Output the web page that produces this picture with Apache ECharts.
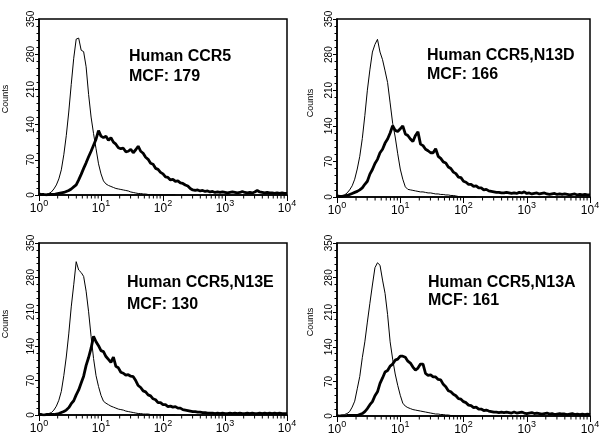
<!DOCTYPE html>
<html><head><meta charset="utf-8">
<script src="https://cdn.jsdelivr.net/npm/echarts@6/dist/echarts.min.js"></script>
<style>html,body{margin:0;padding:0;background:#fff}#c{width:608px;height:447px}</style>
</head><body><div id="c"></div>
<script>
// fluorescence channel bins, log10 units (10^0 .. 10^4)
const logBins = Array.from({length: 101}, (_, i) => +(i * 0.04).toFixed(2));
const xTickLabels = ['0', '1', '2', '3', '4'];
const yTicks = [0, 70, 140, 210, 280, 350];

const panelTitles = ['Human CCR5', 'Human CCR5,N13D', 'Human CCR5,N13E', 'Human CCR5,N13A'];
const panelMCF = ['MCF: 179', 'MCF: 166', 'MCF: 130', 'MCF: 161'];

// thin line: control
const control1 = [0,0,1,2,3,6,12,20,32,50, 80,118,165,220,272,310,312,288,285,255,
  200,155,122,92,62,42,28,22,19,17, 15,13,12,11,10,9,8,6,5,4, 3,3,2,2,1,1,1,0,0,0, 0,0,0,0,0,0];
const control2 = [0,1,2,4,8,14,22,35,55,80, 115,160,210,250,285,300,310,285,270,248,
  225,185,145,118,85,55,35,20,15,14, 13,12,11,10,10,9,8,8,7,6, 6,5,5,4,4,3,3,2,1,1, 0,0,0,0,0,0];
const control3 = [0,0,1,2,3,5,10,18,30,48, 80,118,165,220,265,312,295,290,282,252,
  210,160,115,80,58,40,28,24,21,18, 16,14,12,11,10,8,7,6,5,4, 3,3,2,2,2,1,1,1,0,0, 0,0,0,0,0,0];
const control4 = [0,0,1,3,5,9,18,30,55,80, 118,150,190,228,265,300,310,305,275,248,
  205,150,115,85,62,42,26,20,17,15, 13,12,11,10,9,8,7,6,5,4, 4,3,3,2,2,1,1,0,0,0, 0,0,0,0,0,0];

// thick line: receptor stained
const stained1 = [2,1,1,0,1,1,1,2,3,4, 5,7,9,12,16,20,30,41,53,64, 76,87,99,111,128,117,114,117,109,114,
  105,101,94,92,93,86,87,91,84,90, 97,87,83,75,71,63,61,53,51,45, 42,36,35,30,31,27,28,24,23,20,
  18,13,10,9,10,8,9,7,8,6, 7,5,6,5,6,5,4,5,6,5, 4,5,7,5,4,5,4,6,9,6, 5,4,5,4,4,3,4,3,4,3, 3];
const stained2 = [2,1,1,2,3,5,7,9,11,14, 18,25,31,45,54,66,74,87,94,106, 114,126,140,131,129,134,140,124,121,114,
  109,121,128,104,101,94,91,87,87,95, 80,76,69,67,59,56,49,46,39,38, 31,29,25,25,21,22,18,18,14,15,
  12,11,10,9,9,8,8,9,8,7, 8,7,9,8,10,7,8,6,7,8, 6,7,8,6,5,6,7,5,6,5, 6,5,4,5,6,4,5,4,5,4, 4];
const stained3 = [1,1,0,1,1,1,1,2,3,5, 7,10,15,23,29,41,51,65,79,101, 117,136,160,149,141,131,129,119,113,107,
  118,99,96,87,85,81,82,79,78,70, 60,56,49,47,41,39,33,31,25,25, 21,21,17,18,16,17,14,14,11,10,
  9,8,7,7,6,6,5,5,4,4, 4,3,4,3,4,3,3,4,3,4, 3,4,3,3,4,3,4,3,3,4, 3,4,3,4,3,4,3,4,3,3, 3];
const stained4 = [1,0,1,0,1,1,1,1,1,3, 5,9,15,23,29,41,49,66,77,89, 92,101,105,113,115,121,121,119,111,107,
  99,93,97,105,105,86,82,83,79,79, 74,73,64,59,51,49,44,41,35,34, 29,27,22,21,17,18,14,14,11,12,
  10,9,8,8,7,8,7,8,7,6, 8,6,7,8,6,5,6,7,5,6, 5,4,5,6,4,5,3,4,5,4, 4,3,4,5,3,4,3,4,3,4, 3];

const controls = [control1, control2, control3, control4];
const stained = [stained1, stained2, stained3, stained4];

// log minor tick positions (2..9 in each decade)
const minorTickPos = [];
for (let d = 0; d < 4; d++) for (let k = 2; k <= 9; k++) minorTickPos.push([d + Math.log10(k), 0]);

const grids = [
  {left: 39, top: 19, width: 248, height: 176},
  {left: 337, top: 19, width: 253, height: 178},
  {left: 39, top: 243, width: 248, height: 172},
  {left: 337, top: 243, width: 253, height: 173}
];
const titlePos = [[129, 56.5, 77], [427, 56, 75], [127, 283, 305], [428, 283, 301]];
const countsPos = [[6, 99], [311, 103], [6, 324], [311, 322]];

const FONT = '"Liberation Sans", Arial, Helvetica, sans-serif';
const chart = echarts.init(document.getElementById('c'), null, {renderer: 'canvas'});

const option = {
  animation: false,
  backgroundColor: '#fff',
  grid: grids.map(g => Object.assign({show: true, borderColor: '#000', borderWidth: 1.5, backgroundColor: 'transparent'}, g)),
  xAxis: grids.map((g, i) => ({
    type: 'value', gridIndex: i, min: 0, max: 4, interval: 1,
    axisLine: {show: true, lineStyle: {color: '#000', width: 1.5}},
    axisTick: {show: true, length: 6, lineStyle: {color: '#000', width: 1}},
    splitLine: {show: false},
    axisLabel: {
      margin: 4, color: '#000', fontFamily: FONT,
      formatter: v => '{b|10}{s|' + xTickLabels[Math.round(v)] + '}',
      rich: {
        b: {fontSize: 12, fontFamily: FONT, color: '#000', verticalAlign: 'bottom', lineHeight: 16},
        s: {fontSize: 9, fontFamily: FONT, color: '#000', verticalAlign: 'top', lineHeight: 16, padding: [0, 0, 6, 0]}
      }
    }
  })),
  yAxis: grids.map((g, i) => ({
    type: 'value', gridIndex: i, min: 0, max: 350, interval: 70,
    axisLine: {show: true, lineStyle: {color: '#000', width: 1.5}},
    axisTick: {show: true, length: 4, lineStyle: {color: '#000', width: 1}},
    minorTick: {show: true, splitNumber: 5, length: 2.5, lineStyle: {color: '#000', width: 1}},
    splitLine: {show: false},
    axisLabel: {rotate: 90, margin: 3, fontSize: 10, color: '#000', fontFamily: FONT}
  })),
  series: [],
  graphic: []
};

for (let i = 0; i < 4; i++) {
  option.series.push({
    type: 'line', xAxisIndex: i, yAxisIndex: i, silent: true, showSymbol: false,
    lineStyle: {color: '#000', width: 1}, z: 2,
    data: controls[i].map((v, j) => [logBins[j], v])
  });
  option.series.push({
    type: 'line', xAxisIndex: i, yAxisIndex: i, silent: true, showSymbol: false,
    lineStyle: {color: '#000', width: 2.8}, z: 3,
    data: stained[i].map((v, j) => [logBins[j], v])
  });
  option.series.push({
    type: 'custom', xAxisIndex: i, yAxisIndex: i, silent: true, clip: false,
    data: minorTickPos,
    renderItem: (params, api) => {
      const p = api.coord([api.value(0), 0]);
      return {type: 'line', shape: {x1: p[0], y1: p[1], x2: p[0], y2: p[1] + 3.5},
        style: {stroke: '#000', lineWidth: 1}};
    }
  });
  const t = titlePos[i];
  option.graphic.push({type: 'text', x: t[0], y: t[1],
    style: {text: panelTitles[i], font: 'bold 16px ' + FONT, fill: '#000', textVerticalAlign: 'middle'}});
  option.graphic.push({type: 'text', x: t[0], y: t[2],
    style: {text: panelMCF[i], font: 'bold 16px ' + FONT, fill: '#000', textVerticalAlign: 'middle'}});
  const c = countsPos[i];
  option.graphic.push({type: 'text', x: c[0], y: c[1], rotation: Math.PI / 2,
    style: {text: 'Counts', font: '9px ' + FONT, fill: '#000', textAlign: 'center', textVerticalAlign: 'middle'}});
}

chart.setOption(option);
</script>
</body></html>
